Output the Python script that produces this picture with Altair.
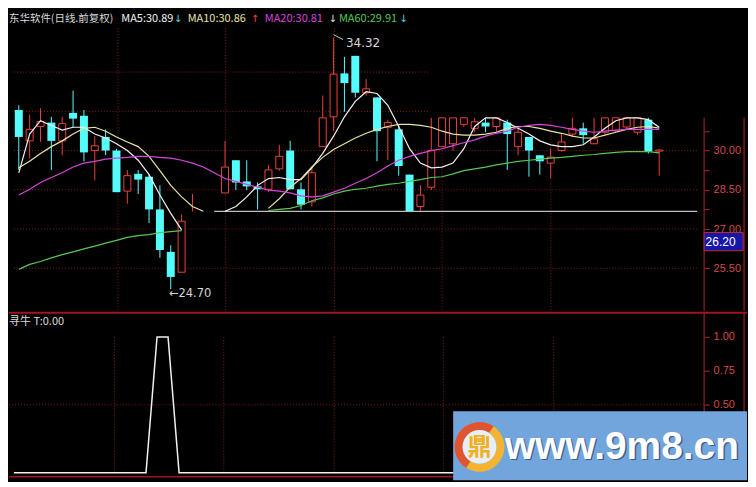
import altair as alt
import pandas as pd

# ---------------- data ----------------
bars = list(range(60))
open_ = [31.55, 30.37, 30.92, 31.07, 30.37, 31.44, 31.33, 30.00, 30.52, 30.00,
         28.45, 29.11, 29.00, 27.75, 26.13, 25.35, None, None, None, 28.38,
         29.63, 28.82, 28.63, 28.52, 29.30, 30.00, 28.52, 28.04, 30.15, 31.29,
         32.95, 33.62, 32.21, 32.03, 30.89, 30.81, 29.08, 27.86, 28.60, 30.15,
         30.26, 31.00, 30.85, 31.07, 30.92, 31.07, 30.15, 30.52, 29.82, 29.52,
         30.00, 30.63, 30.85, 30.26, 30.70, 30.75, 30.90, 30.70, 31.18, 29.98]
close = [30.52, 30.81, 31.11, 30.37, 31.03, 31.22, 29.93, 30.18, 30.00, 28.41,
         29.04, 28.89, 27.75, 26.20, 25.17, 27.30, None, None, None, 29.37,
         28.78, 28.63, 28.52, 29.26, 29.78, 28.52, 27.93, 29.15, 31.25, 32.92,
         32.58, 32.21, 32.36, 30.74, 31.07, 29.41, 27.68, 28.30, 30.00, 31.25,
         31.25, 31.25, 31.10, 30.92, 31.25, 30.63, 30.70, 30.00, 29.59, 29.75,
         30.33, 30.85, 30.59, 30.45, 31.25, 31.25, 31.25, 31.25, 29.96, 30.02]
high = [31.73, 31.37, 31.62, 31.29, 31.29, 32.29, 31.55, 30.55, 30.81, 30.07,
        29.26, 29.26, 29.08, 28.67, 26.38, 27.55, 28.34, None, None, 30.37,
        29.63, 29.63, 28.78, 29.45, 30.22, 30.37, 28.78, 29.34, 32.10, 34.32,
        33.58, 33.62, 32.73, 32.03, 31.18, 31.00, 29.08, 28.67, 31.25, 31.25,
        31.25, 31.25, 31.25, 31.25, 31.25, 31.18, 30.89, 30.52, 29.82, 30.07,
        30.63, 31.25, 31.07, 31.25, 31.25, 31.25, 31.25, 31.25, 31.25, 30.05]
low = [29.26, 29.70, 30.33, 29.26, 29.82, 30.89, 29.59, 28.86, 29.82, 28.41,
       27.97, 28.34, 27.23, 25.90, 24.70, 25.35, 27.68, None, None, 28.38,
       28.49, 28.49, 27.75, 28.41, 29.23, 28.52, 27.75, 27.86, 30.15, 30.74,
       31.48, 32.03, 32.10, 29.59, 29.63, 29.04, 27.68, 27.68, 28.49, 30.15,
       30.00, 30.90, 30.70, 30.70, 30.70, 29.26, 29.82, 29.00, 29.08, 28.93,
       29.96, 30.52, 30.26, 30.26, 30.60, 30.70, 30.80, 30.60, 29.89, 29.04]

ma5 = [29.15, 30.63, 31.14, 30.96, 30.78, 30.89, 30.89, 30.63, 30.48, 30.26,
       30.00, 29.63, 29.08, 28.30, 27.60, 26.97, None, None, None, 27.68,
       27.86, 28.23, 28.67, 28.93, 28.97, 28.89, 28.89, 29.34, 29.89, 30.55,
       31.29, 31.88, 32.25, 32.18, 31.73, 30.92, 30.07, 29.52, 29.34, 29.37,
       29.52, 30.07, 30.92, 31.25, 31.25, 31.07, 30.85, 30.63, 30.37, 30.22,
       30.15, 30.15, 30.22, 30.52, 30.85, 31.14, 31.25, 31.25, 31.18, 30.89]
ma10 = [29.34, 29.59, 29.89, 30.15, 30.37, 30.63, 30.85, 30.89, 30.74, 30.52,
        30.33, 30.15, 29.78, 29.23, 28.67, 28.23, 27.86, 27.68, None, None,
        None, None, None, 27.79, 28.16, 28.60, 28.93, 29.37, 29.74, 30.04,
        30.26, 30.48, 30.66, 30.81, 30.92, 31.00, 31.00, 30.96, 30.89, 30.74,
        30.63, 30.59, 30.59, 30.63, 30.70, 30.85, 30.92, 30.92, 30.85, 30.74,
        30.66, 30.55, 30.48, 30.48, 30.59, 30.70, 30.81, 30.89, 30.92, 30.86]
ma20 = [28.30, 28.52, 28.78, 28.97, 29.15, 29.37, 29.52, 29.59, 29.67, 29.71,
        29.74, 29.78, 29.78, 29.74, 29.71, 29.63, 29.52, 29.37, 29.15, 28.93,
        28.82, 28.71, 28.60, 28.49, 28.45, 28.38, 28.27, 28.23, 28.27, 28.41,
        28.56, 28.75, 28.93, 29.15, 29.41, 29.63, 29.78, 29.89, 30.00, 30.07,
        30.19, 30.30, 30.41, 30.55, 30.66, 30.74, 30.89, 30.96, 31.00, 30.96,
        30.89, 30.81, 30.74, 30.70, 30.74, 30.78, 30.81, 30.81, 30.81, 30.81]
ma60 = [25.46, 25.65, 25.76, 25.90, 26.02, 26.13, 26.24, 26.35, 26.46, 26.57,
        26.68, 26.75, 26.79, 26.86, 26.90, 26.94, None, None, None, None,
        None, None, None, 27.71, 27.75, 27.79, 27.90, 28.08, 28.19, 28.34,
        28.45, 28.52, 28.56, 28.64, 28.71, 28.75, 28.82, 28.89, 28.97, 29.00,
        29.11, 29.23, 29.30, 29.37, 29.45, 29.52, 29.59, 29.63, 29.67, 29.71,
        29.74, 29.78, 29.82, 29.85, 29.89, 29.93, 29.96, 29.96, 29.96, 29.91]

t_signal = [0, 0, 0, 0, 0, 0, 0, 0, 0, 0, 0, 0, 0, 1, 1, 0, 0, 0, 0, 0,
            0, 0, 0, 0, 0, 0, 0, 0, 0, 0, 0, 0, 0, 0, 0, 0, 0, 0, 0, 0,
            0, 0, 0, 0, 0, 0, 0, 0, 0, 0, 0, 0, 0, 0, 0, 0, 0, 0, 0, 0]

ma_names = ["MA5", "MA10", "MA20", "MA60"]
ma_colors = ["#f2f2f2", "#e9e3a6", "#d845d8", "#55c855"]
price_ticks = [25.5, 26.25, 27.0, 27.75, 28.5, 29.25, 30.0, 30.75]
full_grid_prices = [30.0, 28.5, 27.0, 25.5]
part_grid_prices = [31.5, 33.0]
vgrid_bars = [9.13, 19.06, 29.08, 39.0, 49.02]
t_ticks = [0.5, 0.75, 1.0]

# (text, colour, font size, is_arrow)
title_parts = [("东华软件(日线.前复权)", "#d8d8d8", 10.5, False), ("MA5:30.89", "#f2f2f2", 11, False),
               ("↓", "#4fe3e3", 10, True), ("MA10:30.86", "#e9e3a6", 11, False),
               ("↑", "#ff4040", 10, True), ("MA20:30.81", "#d845d8", 11, False),
               ("↓", "#e0e0e0", 10, True), ("MA60:29.91", "#55c855", 11, False),
               ("↓", "#4fe3e3", 10, True)]

# ---------------- layout ----------------
SX = 740 / 756
SY = 471 / 487
W = round(712 * SX)
H_TOP = round(313 * SY)
H_BOT = 471 - H_TOP
X0, DX = 5.0, 11.28
XMIN, XMAX = (0 - X0) / DX, (712 - X0) / DX


def ref_price(y):
    return 30.0 - (y - 147) / 27.1


def ref_t(y):
    return (479 - y) / 141.0


def bar_at(x):
    return (x - X0) / DX


UP, DOWN = "#e8413c", "#54fcfc"
GRID = "#8a1c1c"
AXC = "#b02828"
LAB = "#d24a4a"
CJK = "Noto Sans CJK SC"

xs = alt.Scale(domain=[XMIN, XMAX], nice=False, zero=False)
ys = alt.Scale(domain=[ref_price(313), ref_price(0)], nice=False, zero=False)
yaxis = alt.Axis(orient="right", values=price_ticks, domain=False, grid=False,
                 tickSize=5, tickColor=AXC, labelColor=LAB, labelFontSize=11,
                 labelFont="Liberation Sans", labelPadding=4, title=None,
                 labelOverlap=False, zindex=0,
                 labelExpr="datum.value % 1.5 == 0 ? format(datum.value, '.2f') : ''")


def X(f="i"):
    return alt.X(f + ":Q", scale=xs, axis=None)


def Y(f):
    return alt.Y(f + ":Q", scale=ys, axis=yaxis)


def txt(t, px, py, color, size=11.5, font=CJK, align="left", weight="normal", baseline="middle"):
    return alt.Chart(pd.DataFrame({"t": [t]})).mark_text(
        align=align, baseline=baseline, color=color, fontSize=size, font=font, fontWeight=weight
    ).encode(x=alt.value(px), y=alt.value(py), text="t:N")


# candles
cd = pd.DataFrame({"i": bars, "o": open_, "h": high, "l": low, "c": close})
cd["dir"] = ["down" if (o is not None and c is not None and c < o) else "up" for o, c in zip(open_, close)]
wick_df = cd.dropna(subset=["h", "l"])
body_df = cd.dropna(subset=["o", "c"])

wicks_up = alt.Chart(wick_df[wick_df.dir == "up"]).mark_rule(strokeWidth=1, color=UP).encode(
    x=X(), y=Y("l"), y2="h:Q")
wicks_down = alt.Chart(wick_df[wick_df.dir == "down"]).mark_rule(strokeWidth=1, color=DOWN).encode(
    x=X(), y=Y("l"), y2="h:Q")
down_bodies = alt.Chart(body_df[body_df.dir == "down"]).mark_bar(size=8, color=DOWN).encode(
    x=X(), y=Y("o"), y2="c:Q")
up_bodies = alt.Chart(body_df[body_df.dir == "up"]).mark_bar(
    size=7, fill="#000000", stroke=UP, strokeWidth=1).encode(x=X(), y=Y("o"), y2="c:Q")

# moving averages, broken into visible segments, one layer per line with a fixed colour
ma_layers = []
for name, vals, col in zip(ma_names, [ma5, ma10, ma20, ma60], ma_colors):
    rows = []
    seg = 0
    for i, v in enumerate(vals):
        if v is None:
            seg += 1
            continue
        rows.append({"i": i, "v": v, "seg": f"{name}-{seg}"})
    ma_layers.append(alt.Chart(pd.DataFrame(rows)).mark_line(strokeWidth=1.2, color=col).encode(
        x=X(), y=Y("v"), detail="seg:N", order="i:Q"))

# grids
hg = pd.DataFrame([{"p": p, "a": XMIN, "b": XMAX} for p in full_grid_prices] +
                  [{"p": p, "a": XMIN, "b": bar_at(430)} for p in part_grid_prices])
hgrid = alt.Chart(hg).mark_rule(color=GRID, strokeDash=[1, 2], strokeWidth=1).encode(
    x=X("a"), x2="b:Q", y=Y("p"))
vg = pd.DataFrame([{"i": b, "p1": (ref_price(20) if b < 35 else ref_price(113)), "p2": ref_price(313)}
                   for b in vgrid_bars])
vgrid = alt.Chart(vg).mark_rule(color=GRID, strokeDash=[1, 2], strokeWidth=1).encode(
    x=X(), y=Y("p1"), y2="p2:Q")

base_line = alt.Chart(pd.DataFrame({"a": [18.0], "b": [bar_at(710)], "p": [ref_price(210)]})).mark_rule(
    color="#bdbdbd", strokeWidth=1.3).encode(x=X("a"), x2="b:Q", y=Y("p"))

# high / low annotations
hi_arrow = alt.Chart(pd.DataFrame({"a": [bar_at(332)], "b": [bar_at(342)],
                                   "p": [ref_price(27)], "q": [ref_price(32)]})).mark_rule(
    color="#cfcfcf", strokeWidth=1).encode(x=X("a"), x2="b:Q", y=Y("p"), y2="q:Q")
hi_text = alt.Chart(pd.DataFrame({"i": [bar_at(345)], "p": [ref_price(36)], "t": ["34.32"]})).mark_text(
    align="left", baseline="middle", color="#d6d6d6", fontSize=12, font="DejaVu Sans").encode(
    x=X(), y=Y("p"), text="t:N")
lo_text = alt.Chart(pd.DataFrame({"i": [bar_at(161)], "p": [ref_price(296)], "t": ["←24.70"]})).mark_text(
    align="left", baseline="middle", color="#d6d6d6", fontSize=11.5, font="DejaVu Sans").encode(
    x=X(), y=Y("p"), text="t:N")


# right edge frame lines
def vline(px, y1, y2, color=AXC, w=1):
    return alt.Chart(pd.DataFrame({"k": [0]})).mark_rule(color=color, strokeWidth=w).encode(
        x=alt.value(px), y=alt.value(y1), y2=alt.value(y2))


frame_top = [vline(W, 113 * SY, H_TOP), vline(753 * SX, 113 * SY, H_TOP)]

price_box = alt.Chart(pd.DataFrame({"k": [0]})).mark_rect(color="#1616a8", stroke="#c03030", strokeWidth=1).encode(
    x=alt.value(W), x2=alt.value(752 * SX), y=alt.value(232 * SY), y2=alt.value(251 * SY))
price_box_text = txt("26.20", W + 1.5, 241.5 * SY, "#ffffff", size=12, font="Liberation Sans")

# title: plain texts are left-aligned at their start, arrows centred on their position
title_x = [0, 115, 173, 183, 252, 262, 331.5, 338, 404]
title_layers = []
for (t, c, s, is_arrow), px in zip(title_parts, title_x):
    if is_arrow:
        title_layers.append(txt(t, px * SX, 11 * SY, c, size=s, font="DejaVu Sans", align="center"))
    else:
        title_layers.append(txt(t, px * SX, 11 * SY, c, size=s))

top = alt.layer(hgrid, vgrid, base_line, wicks_up, wicks_down, down_bodies, up_bodies, *ma_layers,
                hi_arrow, hi_text, lo_text, *frame_top, price_box, price_box_text,
                *title_layers).properties(width=W, height=H_TOP)

# ---------------- bottom indicator panel ----------------
bys = alt.Scale(domain=[ref_t(487), ref_t(313)], nice=False, zero=False)
baxis = alt.Axis(orient="right", values=t_ticks, format=".2f", domain=False, grid=False,
                 tickSize=5, tickColor=AXC, labelColor=LAB, labelFontSize=11,
                 labelFont="Liberation Sans", labelPadding=4, title=None, zindex=0)


def BY(f):
    return alt.Y(f + ":Q", scale=bys, axis=baxis)


t_df = pd.DataFrame({"i": bars, "t": t_signal})
b_vgrid = alt.Chart(pd.DataFrame({"i": vgrid_bars, "a": [1.0] * 5, "b": [0.0] * 5})).mark_rule(
    color=GRID, strokeDash=[1, 2]).encode(x=X(), y=BY("a"), y2="b:Q")
b_hgrid = alt.Chart(pd.DataFrame({"a": [XMIN], "b": [XMAX], "v": [0.5]})).mark_rule(
    color=GRID, strokeDash=[1, 2]).encode(x=X("a"), x2="b:Q", y=BY("v"))
t_line = alt.Chart(t_df).mark_line(color="#f0f0f0", strokeWidth=1.5).encode(x=X(), y=BY("t"))

sep = alt.Chart(pd.DataFrame({"k": [0]})).mark_rule(color="#a0141e", strokeWidth=2).encode(
    x=alt.value(0), x2=alt.value(740), y=alt.value(0))
bottom_rule = alt.Chart(pd.DataFrame({"k": [0]})).mark_rule(color="#a0141e", strokeWidth=1.5).encode(
    x=alt.value(0), x2=alt.value(740), y=alt.value((483 - 313) * SY))
frame_bot = [vline(W, 0, H_BOT), vline(753 * SX, 0, H_BOT)]
b_title = txt("寻牛 T:0.00", 0, (323 - 313) * SY, "#dcdcdc", size=11)

# watermark
wm_rect = alt.Chart(pd.DataFrame({"k": [0]})).mark_rect(color="#72a5dc").encode(
    x=alt.value(455 * SX), x2=alt.value(740), y=alt.value((415 - 313) * SY), y2=alt.value(H_BOT))
cx, cy = 482 * SX, (452 - 313) * SY
logo_red = alt.Chart(pd.DataFrame({"k": [0]})).mark_arc(radius=25, radius2=17, color="#e0552e").encode(
    x=alt.value(cx), y=alt.value(cy), theta=alt.value(3.7), theta2=alt.value(6.9))
logo_yel = alt.Chart(pd.DataFrame({"k": [0]})).mark_arc(radius=25, radius2=17, color="#f2b431").encode(
    x=alt.value(cx), y=alt.value(cy), theta=alt.value(0.6), theta2=alt.value(3.7))
logo_in = alt.Chart(pd.DataFrame({"k": [0]})).mark_arc(radius=17, color="#e9eef5").encode(
    x=alt.value(cx), y=alt.value(cy), theta=alt.value(0), theta2=alt.value(6.2832))
logo_glyph = txt("鼎", cx, cy + 1, "#f0b020", size=24, align="center", weight="bold")
wm_shadow = txt("www.9m8.cn", 509.5 * SX, (453.5 - 313) * SY, "#3f5f86", size=39,
                font="Liberation Sans", weight="bold")
wm_text = txt("www.9m8.cn", 508 * SX, (452 - 313) * SY, "#ffffff", size=39,
              font="Liberation Sans", weight="bold")

bottom = alt.layer(b_vgrid, b_hgrid, t_line, sep, bottom_rule, *frame_bot, b_title,
                   wm_rect, logo_red, logo_yel, logo_in, logo_glyph, wm_shadow, wm_text
                   ).properties(width=W, height=H_BOT)

chart = alt.vconcat(top, bottom, spacing=0).properties(padding=0).configure(
    background="#000000").configure_view(stroke=None)

chart.save("out.html", embed_options={"renderer": "svg", "actions": False})
